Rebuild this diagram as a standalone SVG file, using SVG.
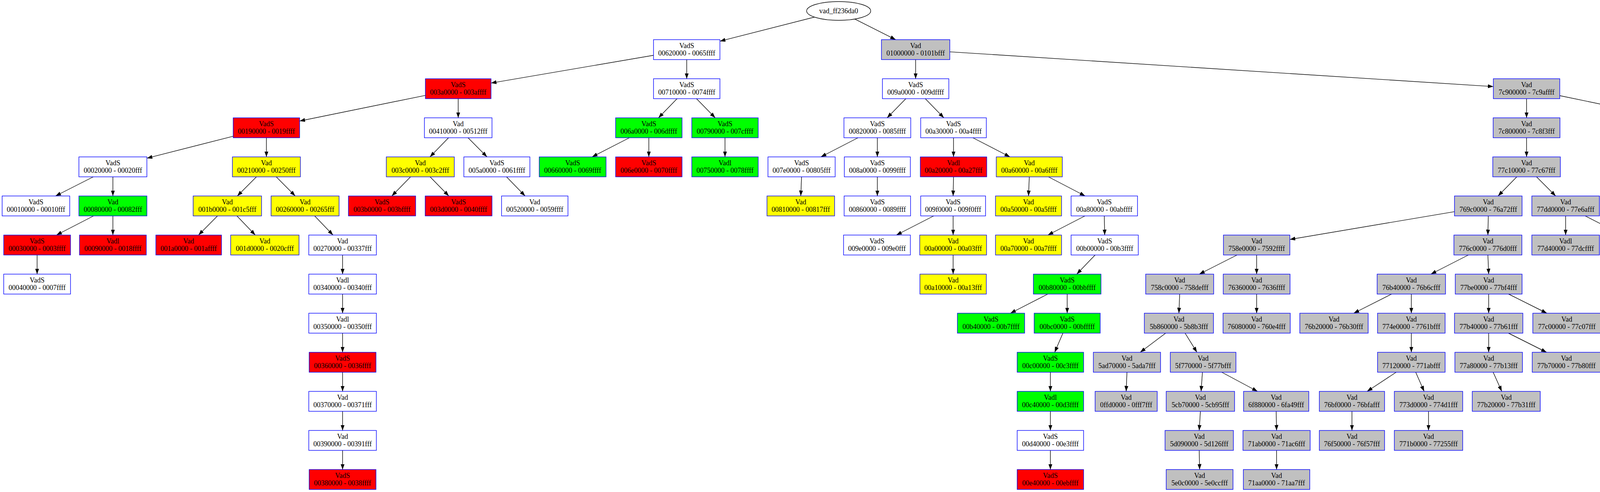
<svg xmlns="http://www.w3.org/2000/svg" width="5037" height="1259" viewBox="0 0 5037 1259">
<style>
.node rect{stroke:#0000ff;stroke-width:1.4}
.w{fill:#ffffff}.r{fill:#ff0000}.y{fill:#ffff00}.g{fill:#00ff00}.k{fill:#c0c0c0}
text{font-family:"Liberation Serif","Times New Roman",serif;font-size:18px;text-anchor:middle;fill:#000}
#edges line{stroke:#000;stroke-width:1.4;marker-end:url(#ah)}
</style>
<defs>
<marker id="ah" markerUnits="userSpaceOnUse" markerWidth="14" markerHeight="10" refX="14" refY="5" orient="auto"><path d="M0,0 L14,5 L0,10 z" fill="#000"/></marker>
</defs>
<rect x="0" y="0" width="5037" height="1259" fill="#fff"/>
<g id="edges">
<line x1="2085" y1="43.8" x2="1843" y2="105.4"/>
<line x1="2188" y1="48.7" x2="2293" y2="101.5"/>
<line x1="1673" y1="141.5" x2="1257" y2="212.6"/>
<line x1="1733.3" y1="252.5" x2="1685.7" y2="301.5"/>
<line x1="1783" y1="252.5" x2="1831" y2="301.5"/>
<line x1="1611.3" y1="352.5" x2="1515.7" y2="401.5"/>
<line x1="1089" y1="244.1" x2="767" y2="309.7"/>
<line x1="597" y1="348.6" x2="376" y2="404.9"/>
<line x1="238.8" y1="452.5" x2="142.2" y2="501.5"/>
<line x1="239.5" y1="552.5" x2="144.5" y2="601.5"/>
<line x1="656.5" y1="452.5" x2="607.5" y2="501.5"/>
<line x1="707.2" y1="452.5" x2="755.8" y2="501.5"/>
<line x1="556.8" y1="552.5" x2="508.2" y2="601.5"/>
<line x1="606.5" y1="552.5" x2="653.5" y2="601.5"/>
<line x1="805.5" y1="552.5" x2="852.5" y2="601.5"/>
<line x1="1148.3" y1="352.5" x2="1100.7" y2="401.5"/>
<line x1="1198.2" y1="352.5" x2="1246.8" y2="401.5"/>
<line x1="1051" y1="452.5" x2="1003" y2="501.5"/>
<line x1="1101" y1="452.5" x2="1149" y2="501.5"/>
<line x1="1296.7" y1="452.5" x2="1344.3" y2="501.5"/>
<line x1="2431.5" y1="132.6" x2="3823" y2="221.6"/>
<line x1="2319" y1="252.5" x2="2271" y2="301.5"/>
<line x1="2368.7" y1="252.5" x2="2416.3" y2="301.5"/>
<line x1="2196.5" y1="352.5" x2="2101.5" y2="401.5"/>
<line x1="2490.5" y1="352.5" x2="2585.5" y2="401.5"/>
<line x1="2390.3" y1="552.5" x2="2294.7" y2="601.5"/>
<line x1="2684" y1="452.5" x2="2778" y2="501.5"/>
<line x1="2777.5" y1="552.5" x2="2682.5" y2="601.5"/>
<line x1="2803.5" y1="652.5" x2="2756.5" y2="701.5"/>
<line x1="2682.3" y1="752.5" x2="2586.7" y2="801.5"/>
<line x1="2721" y1="852.5" x2="2700" y2="901.5"/>
<line x1="3993" y1="244.7" x2="4307.5" y2="310.1"/>
<line x1="3883" y1="452.5" x2="3835" y2="501.5"/>
<line x1="3933.5" y1="452.5" x2="3982.5" y2="501.5"/>
<line x1="3723.5" y1="541.6" x2="3302" y2="612.7"/>
<line x1="3166.8" y1="652.5" x2="3070.2" y2="701.5"/>
<line x1="2984.1" y1="852.5" x2="2918.9" y2="901.5"/>
<line x1="3033.8" y1="852.5" x2="3064.2" y2="901.5"/>
<line x1="3078.2" y1="952.5" x2="3074.8" y2="1001.5"/>
<line x1="3127.7" y1="952.5" x2="3219.3" y2="1001.5"/>
<line x1="3759" y1="652.5" x2="3663" y2="701.5"/>
<line x1="3562.5" y1="752.5" x2="3465.5" y2="801.5"/>
<line x1="3574.2" y1="952.5" x2="3499.8" y2="1001.5"/>
<line x1="3624.2" y1="952.5" x2="3645.8" y2="1001.5"/>
<line x1="3862" y1="752.5" x2="3960" y2="801.5"/>
<line x1="3861.7" y1="852.5" x2="3959.3" y2="901.5"/>
<line x1="3822.5" y1="952.5" x2="3844.5" y2="1001.5"/>
<line x1="4058" y1="552.5" x2="4154" y2="601.5"/>
<line x1="4470.5" y1="348.9" x2="4679.5" y2="405.1"/>
<line x1="4364.8" y1="452.5" x2="4318.2" y2="501.5"/>
<line x1="4413.5" y1="452.5" x2="4460.5" y2="501.5"/>
<line x1="4461.3" y1="652.5" x2="4415.7" y2="701.5"/>
<line x1="4508.2" y1="652.5" x2="4552.8" y2="701.5"/>
<line x1="4809.2" y1="452.5" x2="4901.8" y2="501.5"/>
<line x1="1758" y1="152.5" x2="1758" y2="201.5"/>
<line x1="1661" y1="352.5" x2="1661" y2="401.5"/>
<line x1="1856" y1="352.5" x2="1856" y2="401.5"/>
<line x1="1173" y1="252.5" x2="1173" y2="301.5"/>
<line x1="682" y1="352.5" x2="682" y2="401.5"/>
<line x1="289" y1="452.5" x2="289" y2="501.5"/>
<line x1="289" y1="552.5" x2="289" y2="601.5"/>
<line x1="95" y1="652.5" x2="95" y2="701.5"/>
<line x1="877" y1="652.5" x2="877" y2="701.5"/>
<line x1="877" y1="752.5" x2="877" y2="801.5"/>
<line x1="877" y1="852.5" x2="877" y2="901.5"/>
<line x1="877" y1="952.5" x2="877" y2="1001.5"/>
<line x1="877" y1="1052.5" x2="877" y2="1101.5"/>
<line x1="877" y1="1152.5" x2="877" y2="1201.5"/>
<line x1="2344" y1="152.5" x2="2344" y2="201.5"/>
<line x1="2246" y1="352.5" x2="2246" y2="401.5"/>
<line x1="2052" y1="452.5" x2="2050" y2="501.5"/>
<line x1="2246" y1="452.5" x2="2246" y2="501.5"/>
<line x1="2441" y1="352.5" x2="2441" y2="401.5"/>
<line x1="2441" y1="452.5" x2="2440" y2="501.5"/>
<line x1="2440" y1="552.5" x2="2440" y2="601.5"/>
<line x1="2440" y1="652.5" x2="2440" y2="701.5"/>
<line x1="2635" y1="452.5" x2="2633" y2="501.5"/>
<line x1="2827" y1="552.5" x2="2828" y2="601.5"/>
<line x1="2732" y1="752.5" x2="2732" y2="801.5"/>
<line x1="2689" y1="952.5" x2="2689" y2="1001.5"/>
<line x1="2689" y1="1052.5" x2="2689" y2="1101.5"/>
<line x1="2689" y1="1152.5" x2="2689" y2="1201.5"/>
<line x1="3908" y1="252.5" x2="3908" y2="301.5"/>
<line x1="3908" y1="352.5" x2="3908" y2="401.5"/>
<line x1="3810" y1="552.5" x2="3809" y2="601.5"/>
<line x1="3217" y1="652.5" x2="3217" y2="701.5"/>
<line x1="3020" y1="752.5" x2="3018" y2="801.5"/>
<line x1="2885" y1="952.5" x2="2883" y2="1001.5"/>
<line x1="3073" y1="1052.5" x2="3070" y2="1101.5"/>
<line x1="3070" y1="1152.5" x2="3071" y2="1201.5"/>
<line x1="3267" y1="1052.5" x2="3268" y2="1101.5"/>
<line x1="3268" y1="1152.5" x2="3268" y2="1201.5"/>
<line x1="3217" y1="752.5" x2="3217" y2="801.5"/>
<line x1="3809" y1="652.5" x2="3811" y2="701.5"/>
<line x1="3613" y1="752.5" x2="3613" y2="801.5"/>
<line x1="3613" y1="852.5" x2="3613" y2="901.5"/>
<line x1="3461" y1="1052.5" x2="3461" y2="1101.5"/>
<line x1="3657" y1="1052.5" x2="3657" y2="1101.5"/>
<line x1="3811" y1="752.5" x2="3811" y2="801.5"/>
<line x1="3811" y1="852.5" x2="3811" y2="901.5"/>
<line x1="4008" y1="552.5" x2="4008" y2="601.5"/>
<line x1="4204" y1="652.5" x2="4205" y2="701.5"/>
<line x1="4205" y1="752.5" x2="4205" y2="801.5"/>
<line x1="4205" y1="852.5" x2="4205" y2="901.5"/>
<line x1="4389" y1="352.5" x2="4389" y2="401.5"/>
<line x1="4485" y1="552.5" x2="4485" y2="601.5"/>
<line x1="4392" y1="752.5" x2="4393" y2="801.5"/>
<line x1="4576" y1="752.5" x2="4576" y2="801.5"/>
<line x1="4761" y1="452.5" x2="4761" y2="501.5"/>
<line x1="4761" y1="552.5" x2="4761" y2="601.5"/>
<line x1="4761" y1="652.5" x2="4762" y2="701.5"/>
<line x1="4950" y1="552.5" x2="4950" y2="601.5"/>
<line x1="4950" y1="652.5" x2="4950" y2="701.5"/>
<line x1="4950" y1="752.5" x2="4950" y2="801.5"/>
<line x1="4950" y1="852.5" x2="4950" y2="901.5"/>
<line x1="4950" y1="952.5" x2="4950" y2="1001.5"/>
<line x1="4950" y1="1052.5" x2="4950" y2="1101.5"/>
</g>
<g id="root" class="node"><ellipse cx="2147" cy="28" rx="82" ry="24" fill="#fff" stroke="#000" stroke-width="1.4"/><text x="2147" y="34">vad_ff236da0</text></g>
<g id="n0062" class="node"><rect class="w" x="1673" y="101.5" width="170" height="51"/><text x="1758" y="122.5">VadS</text><text x="1758" y="142">00620000 - 0065ffff</text></g>
<g id="n0100" class="node"><rect class="k" x="2256.5" y="101.5" width="175" height="51"/><text x="2344" y="122.5">Vad</text><text x="2344" y="142">01000000 - 0101bfff</text></g>
<g id="n003a" class="node"><rect class="r" x="1089" y="201.5" width="168" height="51"/><text x="1173" y="222.5">VadS</text><text x="1173" y="242">003a0000 - 003affff</text></g>
<g id="n0071" class="node"><rect class="w" x="1673" y="201.5" width="170" height="51"/><text x="1758" y="222.5">VadS</text><text x="1758" y="242">00710000 - 0074ffff</text></g>
<g id="n009a" class="node"><rect class="w" x="2259" y="201.5" width="170" height="51"/><text x="2344" y="222.5">VadS</text><text x="2344" y="242">009a0000 - 009dffff</text></g>
<g id="n7c90" class="node"><rect class="k" x="3823" y="201.5" width="170" height="51"/><text x="3908" y="222.5">Vad</text><text x="3908" y="242">7c900000 - 7c9affff</text></g>
<g id="n0019" class="node"><rect class="r" x="597" y="301.5" width="170" height="51"/><text x="682" y="322.5">VadS</text><text x="682" y="342">00190000 - 0019ffff</text></g>
<g id="n0041" class="node"><rect class="w" x="1086.5" y="301.5" width="173" height="51"/><text x="1173" y="322.5">Vad</text><text x="1173" y="342">00410000 - 00512fff</text></g>
<g id="n006a" class="node"><rect class="g" x="1576" y="301.5" width="170" height="51"/><text x="1661" y="322.5">VadS</text><text x="1661" y="342">006a0000 - 006dffff</text></g>
<g id="n0079" class="node"><rect class="g" x="1771" y="301.5" width="170" height="51"/><text x="1856" y="322.5">VadS</text><text x="1856" y="342">00790000 - 007cffff</text></g>
<g id="n0082" class="node"><rect class="w" x="2160.5" y="301.5" width="171" height="51"/><text x="2246" y="322.5">VadS</text><text x="2246" y="342">00820000 - 0085ffff</text></g>
<g id="n00a3" class="node"><rect class="w" x="2357" y="301.5" width="168" height="51"/><text x="2441" y="322.5">VadS</text><text x="2441" y="342">00a30000 - 00a4ffff</text></g>
<g id="n7c80" class="node"><rect class="k" x="3822.5" y="301.5" width="171" height="51"/><text x="3908" y="322.5">Vad</text><text x="3908" y="342">7c800000 - 7c8f3fff</text></g>
<g id="n7ffb" class="node"><rect class="w" x="4307.5" y="301.5" width="163" height="51"/><text x="4389" y="322.5">Vad</text><text x="4389" y="342">7ffb0000 - 7ffd3fff</text></g>
<g id="n0002" class="node"><rect class="w" x="202" y="401.5" width="174" height="51"/><text x="289" y="422.5">VadS</text><text x="289" y="442">00020000 - 00020fff</text></g>
<g id="n0021" class="node"><rect class="y" x="595" y="401.5" width="174" height="51"/><text x="682" y="422.5">Vad</text><text x="682" y="442">00210000 - 00250fff</text></g>
<g id="n003c" class="node"><rect class="y" x="989" y="401.5" width="174" height="51"/><text x="1076" y="422.5">Vad</text><text x="1076" y="442">003c0000 - 003c2fff</text></g>
<g id="n005a" class="node"><rect class="w" x="1187.5" y="401.5" width="169" height="51"/><text x="1272" y="422.5">VadS</text><text x="1272" y="442">005a0000 - 0061ffff</text></g>
<g id="n0066" class="node"><rect class="g" x="1380.5" y="401.5" width="171" height="51"/><text x="1466" y="422.5">VadS</text><text x="1466" y="442">00660000 - 0069ffff</text></g>
<g id="n006e" class="node"><rect class="r" x="1576" y="401.5" width="170" height="51"/><text x="1661" y="422.5">VadS</text><text x="1661" y="442">006e0000 - 0070ffff</text></g>
<g id="n0075" class="node"><rect class="g" x="1771" y="401.5" width="170" height="51"/><text x="1856" y="422.5">Vadl</text><text x="1856" y="442">00750000 - 0078ffff</text></g>
<g id="n007e" class="node"><rect class="w" x="1966" y="401.5" width="172" height="51"/><text x="2052" y="422.5">VadS</text><text x="2052" y="442">007e0000 - 00805fff</text></g>
<g id="n008a" class="node"><rect class="w" x="2161.5" y="401.5" width="169" height="51"/><text x="2246" y="422.5">VadS</text><text x="2246" y="442">008a0000 - 0099ffff</text></g>
<g id="n00a2" class="node"><rect class="r" x="2356" y="401.5" width="170" height="51"/><text x="2441" y="422.5">Vadl</text><text x="2441" y="442">00a20000 - 00a27fff</text></g>
<g id="n00a6" class="node"><rect class="y" x="2550.5" y="401.5" width="169" height="51"/><text x="2635" y="422.5">Vad</text><text x="2635" y="442">00a60000 - 00a6ffff</text></g>
<g id="n77c1" class="node"><rect class="k" x="3821.5" y="401.5" width="173" height="51"/><text x="3908" y="422.5">Vad</text><text x="3908" y="442">77c10000 - 77c67fff</text></g>
<g id="n7f6f" class="node"><rect class="w" x="4309" y="401.5" width="160" height="51"/><text x="4389" y="422.5">Vad</text><text x="4389" y="442">7f6f0000 - 7f7effff</text></g>
<g id="n7ffd7" class="node"><rect class="w" x="4679.5" y="401.5" width="163" height="51"/><text x="4761" y="422.5">Vadl</text><text x="4761" y="442">7ffd7000 - 7ffd7fff</text></g>
<g id="n0001" class="node"><rect class="w" x="5.5" y="501.5" width="173" height="51"/><text x="92" y="522.5">VadS</text><text x="92" y="542">00010000 - 00010fff</text></g>
<g id="n0008" class="node"><rect class="g" x="202" y="501.5" width="174" height="51"/><text x="289" y="522.5">Vad</text><text x="289" y="542">00080000 - 00082fff</text></g>
<g id="n001b" class="node"><rect class="y" x="494.5" y="501.5" width="175" height="51"/><text x="582" y="522.5">Vad</text><text x="582" y="542">001b0000 - 001c5fff</text></g>
<g id="n0026" class="node"><rect class="y" x="694" y="501.5" width="174" height="51"/><text x="781" y="522.5">Vad</text><text x="781" y="542">00260000 - 00265fff</text></g>
<g id="n003b" class="node"><rect class="r" x="892" y="501.5" width="172" height="51"/><text x="978" y="522.5">VadS</text><text x="978" y="542">003b0000 - 003bffff</text></g>
<g id="n003d" class="node"><rect class="r" x="1088.5" y="501.5" width="171" height="51"/><text x="1174" y="522.5">VadS</text><text x="1174" y="542">003d0000 - 0040ffff</text></g>
<g id="n0052" class="node"><rect class="w" x="1284" y="501.5" width="170" height="51"/><text x="1369" y="522.5">Vad</text><text x="1369" y="542">00520000 - 0059ffff</text></g>
<g id="n0081" class="node"><rect class="y" x="1963.5" y="501.5" width="173" height="51"/><text x="2050" y="522.5">Vad</text><text x="2050" y="542">00810000 - 00817fff</text></g>
<g id="n0086" class="node"><rect class="w" x="2161" y="501.5" width="170" height="51"/><text x="2246" y="522.5">VadS</text><text x="2246" y="542">00860000 - 0089ffff</text></g>
<g id="n009f" class="node"><rect class="w" x="2357" y="501.5" width="166" height="51"/><text x="2440" y="522.5">VadS</text><text x="2440" y="542">009f0000 - 009f0fff</text></g>
<g id="n00a5" class="node"><rect class="y" x="2548.5" y="501.5" width="169" height="51"/><text x="2633" y="522.5">Vad</text><text x="2633" y="542">00a50000 - 00a5ffff</text></g>
<g id="n00a8" class="node"><rect class="w" x="2742" y="501.5" width="170" height="51"/><text x="2827" y="522.5">VadS</text><text x="2827" y="542">00a80000 - 00abffff</text></g>
<g id="n769c" class="node"><rect class="k" x="3723.5" y="501.5" width="173" height="51"/><text x="3810" y="522.5">Vad</text><text x="3810" y="542">769c0000 - 76a72fff</text></g>
<g id="n77dd" class="node"><rect class="k" x="3921.5" y="501.5" width="173" height="51"/><text x="4008" y="522.5">Vad</text><text x="4008" y="542">77dd0000 - 77e6afff</text></g>
<g id="n7c9c" class="node"><rect class="k" x="4206.5" y="501.5" width="175" height="51"/><text x="4294" y="522.5">Vad</text><text x="4294" y="542">7c9c0000 - 7d1d3fff</text></g>
<g id="n7ffae" class="node"><rect class="w" x="4406" y="501.5" width="158" height="51"/><text x="4485" y="522.5">Vadl</text><text x="4485" y="542">7ffae000 - 7ffaefff</text></g>
<g id="n7ffd6" class="node"><rect class="w" x="4679.5" y="501.5" width="163" height="51"/><text x="4761" y="522.5">Vadl</text><text x="4761" y="542">7ffd6000 - 7ffd6fff</text></g>
<g id="n7ffde" class="node"><rect class="w" x="4868.5" y="501.5" width="163" height="51"/><text x="4950" y="522.5">Vadl</text><text x="4950" y="542">7ffde000 - 7ffdefff</text></g>
<g id="n0003" class="node"><rect class="r" x="9.5" y="601.5" width="171" height="51"/><text x="95" y="622.5">VadS</text><text x="95" y="642">00030000 - 0003ffff</text></g>
<g id="n0009" class="node"><rect class="r" x="203.5" y="601.5" width="171" height="51"/><text x="289" y="622.5">Vadl</text><text x="289" y="642">00090000 - 0018ffff</text></g>
<g id="n001a" class="node"><rect class="r" x="399" y="601.5" width="168" height="51"/><text x="483" y="622.5">Vad</text><text x="483" y="642">001a0000 - 001affff</text></g>
<g id="n001d" class="node"><rect class="y" x="590.5" y="601.5" width="175" height="51"/><text x="678" y="622.5">Vad</text><text x="678" y="642">001d0000 - 0020cfff</text></g>
<g id="n0027" class="node"><rect class="w" x="790.5" y="601.5" width="173" height="51"/><text x="877" y="622.5">Vad</text><text x="877" y="642">00270000 - 00337fff</text></g>
<g id="n009e" class="node"><rect class="w" x="2159.5" y="601.5" width="171" height="51"/><text x="2245" y="622.5">VadS</text><text x="2245" y="642">009e0000 - 009e0fff</text></g>
<g id="n00a0" class="node"><rect class="y" x="2354.5" y="601.5" width="171" height="51"/><text x="2440" y="622.5">Vad</text><text x="2440" y="642">00a00000 - 00a03fff</text></g>
<g id="n00a7" class="node"><rect class="y" x="2548.5" y="601.5" width="169" height="51"/><text x="2633" y="622.5">Vad</text><text x="2633" y="642">00a70000 - 00a7ffff</text></g>
<g id="n00b0" class="node"><rect class="w" x="2742" y="601.5" width="172" height="51"/><text x="2828" y="622.5">VadS</text><text x="2828" y="642">00b00000 - 00b3ffff</text></g>
<g id="n758e" class="node"><rect class="k" x="3132" y="601.5" width="170" height="51"/><text x="3217" y="622.5">Vad</text><text x="3217" y="642">758e0000 - 7592ffff</text></g>
<g id="n776c" class="node"><rect class="k" x="3722" y="601.5" width="174" height="51"/><text x="3809" y="622.5">Vad</text><text x="3809" y="642">776c0000 - 776d0fff</text></g>
<g id="n77d4" class="node"><rect class="k" x="3921.5" y="601.5" width="173" height="51"/><text x="4008" y="622.5">Vadl</text><text x="4008" y="642">77d40000 - 77dcffff</text></g>
<g id="n77e7" class="node"><rect class="k" x="4119.5" y="601.5" width="169" height="51"/><text x="4204" y="622.5">Vad</text><text x="4204" y="642">77e70000 - 77f00fff</text></g>
<g id="n7ffab" class="node"><rect class="w" x="4404" y="601.5" width="162" height="51"/><text x="4485" y="622.5">Vadl</text><text x="4485" y="642">7ffab000 - 7ffabfff</text></g>
<g id="n7ffd4" class="node"><rect class="w" x="4679.5" y="601.5" width="163" height="51"/><text x="4761" y="622.5">Vadl</text><text x="4761" y="642">7ffd4000 - 7ffd4fff</text></g>
<g id="n7ffdd" class="node"><rect class="w" x="4867.5" y="601.5" width="165" height="51"/><text x="4950" y="622.5">Vadl</text><text x="4950" y="642">7ffdd000 - 7ffddfff</text></g>
<g id="n0004" class="node"><rect class="w" x="9.5" y="701.5" width="171" height="51"/><text x="95" y="722.5">VadS</text><text x="95" y="742">00040000 - 0007ffff</text></g>
<g id="n0034" class="node"><rect class="w" x="790.5" y="701.5" width="173" height="51"/><text x="877" y="722.5">Vadl</text><text x="877" y="742">00340000 - 00340fff</text></g>
<g id="n00a1" class="node"><rect class="y" x="2355" y="701.5" width="170" height="51"/><text x="2440" y="722.5">Vad</text><text x="2440" y="742">00a10000 - 00a13fff</text></g>
<g id="n00b8" class="node"><rect class="g" x="2645.5" y="701.5" width="173" height="51"/><text x="2732" y="722.5">VadS</text><text x="2732" y="742">00b80000 - 00bbffff</text></g>
<g id="n758c" class="node"><rect class="k" x="2933" y="701.5" width="174" height="51"/><text x="3020" y="722.5">Vad</text><text x="3020" y="742">758c0000 - 758defff</text></g>
<g id="n7636" class="node"><rect class="k" x="3131.5" y="701.5" width="171" height="51"/><text x="3217" y="722.5">Vad</text><text x="3217" y="742">76360000 - 7636ffff</text></g>
<g id="n76b4" class="node"><rect class="k" x="3525.5" y="701.5" width="175" height="51"/><text x="3613" y="722.5">Vad</text><text x="3613" y="742">76b40000 - 76b6cfff</text></g>
<g id="n77be" class="node"><rect class="k" x="3725.5" y="701.5" width="171" height="51"/><text x="3811" y="722.5">Vad</text><text x="3811" y="742">77be0000 - 77bf4fff</text></g>
<g id="n77f1" class="node"><rect class="k" x="4121.5" y="701.5" width="167" height="51"/><text x="4205" y="722.5">Vad</text><text x="4205" y="742">77f10000 - 77f55fff</text></g>
<g id="n7ffaa" class="node"><rect class="w" x="4313" y="701.5" width="158" height="51"/><text x="4392" y="722.5">Vadl</text><text x="4392" y="742">7ffaa000 - 7ffaafff</text></g>
<g id="n7ffad" class="node"><rect class="w" x="4495" y="701.5" width="162" height="51"/><text x="4576" y="722.5">Vadl</text><text x="4576" y="742">7ffad000 - 7ffadfff</text></g>
<g id="n7ffd5" class="node"><rect class="w" x="4680.5" y="701.5" width="163" height="51"/><text x="4762" y="722.5">Vadl</text><text x="4762" y="742">7ffd5000 - 7ffd5fff</text></g>
<g id="n7ffdc" class="node"><rect class="w" x="4868.5" y="701.5" width="163" height="51"/><text x="4950" y="722.5">Vadl</text><text x="4950" y="742">7ffdc000 - 7ffdcfff</text></g>
<g id="n0035" class="node"><rect class="w" x="790.5" y="801.5" width="173" height="51"/><text x="877" y="822.5">Vadl</text><text x="877" y="842">00350000 - 00350fff</text></g>
<g id="n00b4" class="node"><rect class="g" x="2451" y="801.5" width="172" height="51"/><text x="2537" y="822.5">VadS</text><text x="2537" y="842">00b40000 - 00b7ffff</text></g>
<g id="n00bc" class="node"><rect class="g" x="2647.5" y="801.5" width="169" height="51"/><text x="2732" y="822.5">VadS</text><text x="2732" y="842">00bc0000 - 00bfffff</text></g>
<g id="n5b86" class="node"><rect class="k" x="2929.5" y="801.5" width="177" height="51"/><text x="3018" y="822.5">Vad</text><text x="3018" y="842">5b860000 - 5b8b3fff</text></g>
<g id="n7608" class="node"><rect class="k" x="3131" y="801.5" width="172" height="51"/><text x="3217" y="822.5">Vad</text><text x="3217" y="842">76080000 - 760e4fff</text></g>
<g id="n76b2" class="node"><rect class="k" x="3327.5" y="801.5" width="175" height="51"/><text x="3415" y="822.5">Vad</text><text x="3415" y="842">76b20000 - 76b30fff</text></g>
<g id="n774e" class="node"><rect class="k" x="3526.5" y="801.5" width="173" height="51"/><text x="3613" y="822.5">Vad</text><text x="3613" y="842">774e0000 - 7761bfff</text></g>
<g id="n77b4" class="node"><rect class="k" x="3723.5" y="801.5" width="175" height="51"/><text x="3811" y="822.5">Vad</text><text x="3811" y="842">77b40000 - 77b61fff</text></g>
<g id="n77c0" class="node"><rect class="k" x="3924" y="801.5" width="174" height="51"/><text x="4011" y="822.5">Vad</text><text x="4011" y="842">77c00000 - 77c07fff</text></g>
<g id="n77f6" class="node"><rect class="k" x="4121.5" y="801.5" width="167" height="51"/><text x="4205" y="822.5">Vad</text><text x="4205" y="842">77f60000 - 77fd5fff</text></g>
<g id="n7ffa8" class="node"><rect class="w" x="4313.5" y="801.5" width="159" height="51"/><text x="4393" y="822.5">Vadl</text><text x="4393" y="842">7ffa8000 - 7ffa8fff</text></g>
<g id="n7ffac" class="node"><rect class="w" x="4497" y="801.5" width="158" height="51"/><text x="4576" y="822.5">Vadl</text><text x="4576" y="842">7ffac000 - 7ffacfff</text></g>
<g id="n7ffdb" class="node"><rect class="w" x="4867.5" y="801.5" width="165" height="51"/><text x="4950" y="822.5">Vadl</text><text x="4950" y="842">7ffdb000 - 7ffdbfff</text></g>
<g id="n0036" class="node"><rect class="r" x="791.5" y="901.5" width="171" height="51"/><text x="877" y="922.5">VadS</text><text x="877" y="942">00360000 - 0036ffff</text></g>
<g id="n00c0" class="node"><rect class="g" x="2604" y="901.5" width="170" height="51"/><text x="2689" y="922.5">VadS</text><text x="2689" y="942">00c00000 - 00c3ffff</text></g>
<g id="n5ad7" class="node"><rect class="k" x="2799" y="901.5" width="172" height="51"/><text x="2885" y="922.5">Vad</text><text x="2885" y="942">5ad70000 - 5ada7fff</text></g>
<g id="n5f77" class="node"><rect class="k" x="2996" y="901.5" width="168" height="51"/><text x="3080" y="922.5">Vad</text><text x="3080" y="942">5f770000 - 5f77bfff</text></g>
<g id="n7712" class="node"><rect class="k" x="3526.5" y="901.5" width="173" height="51"/><text x="3613" y="922.5">Vad</text><text x="3613" y="942">77120000 - 771abfff</text></g>
<g id="n77a8" class="node"><rect class="k" x="3724.5" y="901.5" width="173" height="51"/><text x="3811" y="922.5">Vad</text><text x="3811" y="942">77a80000 - 77b13fff</text></g>
<g id="n77b7" class="node"><rect class="k" x="3922.5" y="901.5" width="175" height="51"/><text x="4010" y="922.5">Vad</text><text x="4010" y="942">77b70000 - 77b80fff</text></g>
<g id="n77fe" class="node"><rect class="k" x="4123" y="901.5" width="164" height="51"/><text x="4205" y="922.5">Vad</text><text x="4205" y="942">77fe0000 - 77ff0fff</text></g>
<g id="n7ffda" class="node"><rect class="w" x="4869" y="901.5" width="162" height="51"/><text x="4950" y="922.5">Vadl</text><text x="4950" y="942">7ffda000 - 7ffdafff</text></g>
<g id="n0037" class="node"><rect class="w" x="790.5" y="1001.5" width="173" height="51"/><text x="877" y="1022.5">Vad</text><text x="877" y="1042">00370000 - 00371fff</text></g>
<g id="n00c4" class="node"><rect class="g" x="2604" y="1001.5" width="170" height="51"/><text x="2689" y="1022.5">Vadl</text><text x="2689" y="1042">00c40000 - 00d3ffff</text></g>
<g id="n0ffd" class="node"><rect class="k" x="2803.5" y="1001.5" width="159" height="51"/><text x="2883" y="1022.5">Vad</text><text x="2883" y="1042">0ffd0000 - 0fff7fff</text></g>
<g id="n5cb7" class="node"><rect class="k" x="2985.5" y="1001.5" width="175" height="51"/><text x="3073" y="1022.5">Vad</text><text x="3073" y="1042">5cb70000 - 5cb95fff</text></g>
<g id="n6f88" class="node"><rect class="k" x="3183.5" y="1001.5" width="167" height="51"/><text x="3267" y="1022.5">Vad</text><text x="3267" y="1042">6f880000 - 6fa49fff</text></g>
<g id="n76bf" class="node"><rect class="k" x="3377.5" y="1001.5" width="167" height="51"/><text x="3461" y="1022.5">Vad</text><text x="3461" y="1042">76bf0000 - 76bfafff</text></g>
<g id="n773d" class="node"><rect class="k" x="3569.5" y="1001.5" width="175" height="51"/><text x="3657" y="1022.5">Vad</text><text x="3657" y="1042">773d0000 - 774d1fff</text></g>
<g id="n77b2" class="node"><rect class="k" x="3769" y="1001.5" width="174" height="51"/><text x="3856" y="1022.5">Vad</text><text x="3856" y="1042">77b20000 - 77b31fff</text></g>
<g id="n7ffd9" class="node"><rect class="w" x="4868.5" y="1001.5" width="163" height="51"/><text x="4950" y="1022.5">Vadl</text><text x="4950" y="1042">7ffd9000 - 7ffd9fff</text></g>
<g id="n0039" class="node"><rect class="w" x="790.5" y="1101.5" width="173" height="51"/><text x="877" y="1122.5">Vad</text><text x="877" y="1142">00390000 - 00391fff</text></g>
<g id="n00d4" class="node"><rect class="w" x="2604" y="1101.5" width="170" height="51"/><text x="2689" y="1122.5">VadS</text><text x="2689" y="1142">00d40000 - 00e3ffff</text></g>
<g id="n5d09" class="node"><rect class="k" x="2982.5" y="1101.5" width="175" height="51"/><text x="3070" y="1122.5">Vad</text><text x="3070" y="1142">5d090000 - 5d126fff</text></g>
<g id="n71ab" class="node"><rect class="k" x="3182" y="1101.5" width="172" height="51"/><text x="3268" y="1122.5">Vad</text><text x="3268" y="1142">71ab0000 - 71ac6fff</text></g>
<g id="n76f5" class="node"><rect class="k" x="3377.5" y="1101.5" width="167" height="51"/><text x="3461" y="1122.5">Vad</text><text x="3461" y="1142">76f50000 - 76f57fff</text></g>
<g id="n771b" class="node"><rect class="k" x="3569.5" y="1101.5" width="175" height="51"/><text x="3657" y="1122.5">Vad</text><text x="3657" y="1142">771b0000 - 77255fff</text></g>
<g id="n7ffd8" class="node"><rect class="w" x="4868.5" y="1101.5" width="163" height="51"/><text x="4950" y="1122.5">Vadl</text><text x="4950" y="1142">7ffd8000 - 7ffd8fff</text></g>
<g id="n0038" class="node"><rect class="r" x="791.5" y="1201.5" width="171" height="51"/><text x="877" y="1222.5">VadS</text><text x="877" y="1242">00380000 - 0038ffff</text></g>
<g id="n00e4" class="node"><rect class="r" x="2604" y="1201.5" width="170" height="51"/><text x="2689" y="1222.5">VadS</text><text x="2689" y="1242">00e40000 - 00ebffff</text></g>
<g id="n5e0c" class="node"><rect class="k" x="2985.5" y="1201.5" width="171" height="51"/><text x="3071" y="1222.5">Vad</text><text x="3071" y="1242">5e0c0000 - 5e0ccfff</text></g>
<g id="n71aa" class="node"><rect class="k" x="3183" y="1201.5" width="170" height="51"/><text x="3268" y="1222.5">Vad</text><text x="3268" y="1242">71aa0000 - 71aa7fff</text></g>
</svg>
